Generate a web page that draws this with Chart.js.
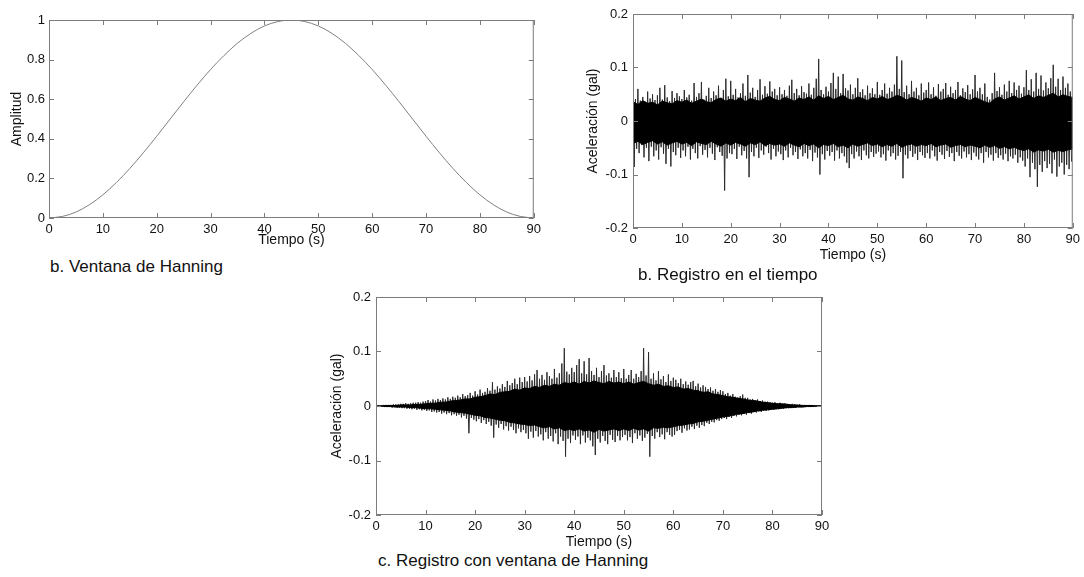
<!DOCTYPE html>
<html>
<head>
<meta charset="utf-8">
<script src="https://cdn.jsdelivr.net/npm/chart.js@4.4.1/dist/chart.umd.min.js"></script>
<style>
  body { margin:0; background:#fff; width:1084px; height:577px; position:relative; overflow:hidden; font-family:"Liberation Sans", Arial, sans-serif; }
  canvas { position:absolute; }
  .cap { position:absolute; font-size:17px; line-height:20px; color:#111; white-space:nowrap; }
</style>
</head>
<body>
<canvas id="hann" width="545" height="249" style="left:0;top:0"></canvas>
<canvas id="rec" width="504" height="264" style="left:580px;top:0"></canvas>
<canvas id="win" width="514" height="271" style="left:320px;top:280px"></canvas>
<div class="cap" style="left:50px;top:257px">b. Ventana de Hanning</div>
<div class="cap" style="left:638px;top:265px">b. Registro en el tiempo</div>
<div class="cap" style="left:378px;top:551px">c. Registro con ventana de Hanning</div>
<script>
// tick labels
const xTicks = [0, 10, 20, 30, 40, 50, 60, 70, 80, 90];
const yTicksHann = [0, 0.2, 0.4, 0.6, 0.8, 1];
const yTicksRec = [-0.2, -0.1, 0, 0.1, 0.2];

// Hanning window, read every 2.5 s
const hannT = [0, 2.5, 5, 7.5, 10, 12.5, 15, 17.5, 20, 22.5, 25, 27.5, 30, 32.5, 35, 37.5, 40, 42.5, 45,
  47.5, 50, 52.5, 55, 57.5, 60, 62.5, 65, 67.5, 70, 72.5, 75, 77.5, 80, 82.5, 85, 87.5, 90];
const hannAmp = [0, 0.008, 0.030, 0.067, 0.117, 0.179, 0.25, 0.329, 0.413, 0.50, 0.587, 0.671, 0.75, 0.821, 0.883, 0.933, 0.970, 0.992, 1.00,
  0.992, 0.970, 0.933, 0.883, 0.821, 0.75, 0.671, 0.587, 0.50, 0.413, 0.329, 0.25, 0.179, 0.117, 0.067, 0.030, 0.008, 0];

// records: peak high / low read for every 0.5 s, solid core band edge for every 1 s
const recordStep = 0.5;
const coreStep = 1;

const recHigh = [
  0.052,0.041,0.060,0.038,0.045,0.036,0.055,0.042,0.050,0.039,0.048,0.062,0.040,0.067,0.044,0.037,0.056,0.043,0.052,0.046,
  0.041,0.058,0.044,0.049,0.038,0.071,0.045,0.052,0.073,0.040,0.047,0.062,0.043,0.055,0.048,0.066,0.041,0.058,0.079,0.046,
  0.075,0.049,0.060,0.044,0.052,0.070,0.047,0.086,0.053,0.062,0.045,0.058,0.078,0.049,0.065,0.051,0.074,0.055,0.060,0.048,
  0.063,0.050,0.058,0.047,0.066,0.077,0.052,0.060,0.048,0.065,0.054,0.051,0.070,0.049,0.062,0.079,0.116,0.058,0.050,0.064,
  0.055,0.071,0.090,0.060,0.083,0.052,0.088,0.061,0.057,0.068,0.050,0.062,0.080,0.054,0.059,0.048,0.066,0.052,0.061,0.050,
  0.073,0.049,0.058,0.070,0.051,0.062,0.055,0.068,0.121,0.060,0.113,0.054,0.066,0.050,0.075,0.055,0.062,0.048,0.070,0.053,
  0.058,0.072,0.050,0.063,0.047,0.069,0.055,0.060,0.071,0.049,0.064,0.052,0.058,0.073,0.048,0.061,0.054,0.067,0.050,0.059,
  0.086,0.055,0.062,0.050,0.070,0.045,0.040,0.052,0.090,0.056,0.063,0.049,0.068,0.055,0.075,0.052,0.072,0.058,0.066,0.051,
  0.063,0.095,0.058,0.078,0.055,0.090,0.060,0.085,0.057,0.072,0.061,0.080,0.105,0.064,0.079,0.058,0.083,0.062,0.070,0.055
];
const recLow = [
  -0.086,-0.052,-0.060,-0.045,-0.068,-0.050,-0.075,-0.048,-0.066,-0.055,-0.072,-0.049,-0.061,-0.080,-0.052,-0.085,-0.058,-0.064,-0.050,-0.069,
  -0.055,-0.066,-0.048,-0.072,-0.052,-0.060,-0.070,-0.047,-0.063,-0.054,-0.068,-0.050,-0.061,-0.073,-0.049,-0.058,-0.065,-0.130,-0.070,-0.060,
  -0.062,-0.052,-0.071,-0.048,-0.064,-0.056,-0.070,-0.105,-0.058,-0.066,-0.050,-0.069,-0.055,-0.063,-0.048,-0.060,-0.072,-0.052,-0.066,-0.057,
  -0.062,-0.073,-0.055,-0.068,-0.050,-0.064,-0.058,-0.071,-0.053,-0.066,-0.060,-0.070,-0.054,-0.075,-0.059,-0.068,-0.100,-0.062,-0.072,-0.056,
  -0.065,-0.058,-0.074,-0.055,-0.070,-0.060,-0.066,-0.078,-0.088,-0.062,-0.070,-0.057,-0.066,-0.073,-0.055,-0.064,-0.070,-0.058,-0.067,-0.061,
  -0.057,-0.068,-0.062,-0.074,-0.055,-0.066,-0.060,-0.072,-0.065,-0.058,-0.107,-0.063,-0.070,-0.056,-0.067,-0.061,-0.073,-0.058,-0.064,-0.069,
  -0.060,-0.070,-0.055,-0.066,-0.074,-0.058,-0.063,-0.071,-0.056,-0.067,-0.060,-0.075,-0.058,-0.065,-0.070,-0.057,-0.068,-0.062,-0.073,-0.059,
  -0.066,-0.072,-0.060,-0.078,-0.058,-0.068,-0.063,-0.074,-0.060,-0.069,-0.064,-0.072,-0.061,-0.075,-0.066,-0.070,-0.063,-0.078,-0.068,-0.074,
  -0.085,-0.070,-0.105,-0.078,-0.090,-0.123,-0.082,-0.095,-0.075,-0.088,-0.080,-0.098,-0.072,-0.104,-0.085,-0.078,-0.100,-0.082,-0.090,-0.076
];
const recCoreHigh = [
  0.036,0.031,0.038,0.033,0.035,0.030,0.037,0.034,0.032,0.038,
  0.035,0.039,0.033,0.037,0.041,0.036,0.034,0.040,0.043,0.037,
  0.041,0.038,0.044,0.036,0.042,0.039,0.037,0.043,0.046,0.040,
  0.038,0.044,0.041,0.037,0.043,0.040,0.045,0.039,0.047,0.042,
  0.046,0.040,0.044,0.048,0.041,0.039,0.045,0.042,0.038,0.044,
  0.041,0.046,0.040,0.043,0.048,0.045,0.039,0.044,0.041,0.037,
  0.043,0.040,0.045,0.038,0.042,0.044,0.039,0.046,0.041,0.038,
  0.044,0.040,0.036,0.033,0.041,0.045,0.039,0.043,0.047,0.041,
  0.045,0.049,0.042,0.047,0.044,0.048,0.052,0.045,0.049,0.046,
  0.044
];
const recCoreLow = [
  -0.042,-0.038,-0.044,-0.040,-0.037,-0.043,-0.039,-0.045,-0.041,-0.038,
  -0.043,-0.040,-0.046,-0.039,-0.042,-0.044,-0.038,-0.043,-0.047,-0.041,
  -0.045,-0.040,-0.043,-0.047,-0.041,-0.044,-0.039,-0.046,-0.042,-0.045,
  -0.043,-0.047,-0.041,-0.045,-0.048,-0.042,-0.046,-0.043,-0.050,-0.044,
  -0.046,-0.042,-0.048,-0.045,-0.050,-0.043,-0.047,-0.044,-0.041,-0.046,
  -0.043,-0.048,-0.044,-0.047,-0.042,-0.049,-0.045,-0.043,-0.047,-0.044,
  -0.046,-0.042,-0.048,-0.045,-0.043,-0.049,-0.046,-0.044,-0.048,-0.045,
  -0.047,-0.050,-0.045,-0.049,-0.046,-0.051,-0.048,-0.052,-0.049,-0.053,
  -0.055,-0.052,-0.058,-0.054,-0.056,-0.053,-0.058,-0.055,-0.057,-0.054,
  -0.052
];

const winHigh = [
  0.001,0.001,0.001,0.002,0.002,0.002,0.002,0.003,0.003,0.003,0.004,0.004,0.005,0.004,0.005,0.006,0.006,0.007,0.006,0.008,
  0.009,0.011,0.008,0.012,0.010,0.013,0.011,0.014,0.012,0.016,0.013,0.017,0.015,0.019,0.016,0.022,0.018,0.020,0.024,0.019,
  0.027,0.021,0.030,0.024,0.026,0.033,0.028,0.044,0.030,0.036,0.032,0.040,0.035,0.046,0.038,0.042,0.050,0.040,0.052,0.044,
  0.053,0.045,0.055,0.047,0.058,0.066,0.050,0.057,0.048,0.062,0.055,0.050,0.068,0.052,0.060,0.078,0.106,0.063,0.058,0.070,
  0.062,0.075,0.086,0.060,0.082,0.058,0.088,0.064,0.057,0.070,0.053,0.064,0.075,0.056,0.060,0.052,0.066,0.053,0.062,0.051,
  0.068,0.050,0.057,0.066,0.050,0.059,0.053,0.064,0.106,0.056,0.099,0.050,0.060,0.047,0.064,0.049,0.055,0.044,0.058,0.046,
  0.052,0.048,0.042,0.050,0.040,0.045,0.039,0.044,0.046,0.036,0.041,0.034,0.038,0.035,0.031,0.034,0.028,0.031,0.026,0.029,
  0.027,0.022,0.024,0.019,0.022,0.017,0.016,0.018,0.021,0.015,0.015,0.012,0.013,0.011,0.012,0.009,0.010,0.008,0.008,0.007,
  0.006,0.007,0.005,0.006,0.004,0.005,0.004,0.003,0.004,0.003,0.002,0.003,0.002,0.002,0.001,0.002,0.001,0.001,0.001,0.000
];
const winLow = [
  -0.001,-0.001,-0.001,-0.002,-0.002,-0.002,-0.003,-0.002,-0.003,-0.003,-0.004,-0.004,-0.005,-0.005,-0.006,-0.005,-0.007,-0.006,-0.008,-0.007,
  -0.009,-0.008,-0.011,-0.010,-0.012,-0.011,-0.014,-0.012,-0.015,-0.013,-0.017,-0.015,-0.018,-0.016,-0.021,-0.018,-0.023,-0.050,-0.022,-0.025,
  -0.028,-0.024,-0.031,-0.026,-0.033,-0.029,-0.036,-0.058,-0.034,-0.040,-0.033,-0.043,-0.037,-0.045,-0.038,-0.044,-0.050,-0.041,-0.048,-0.044,
  -0.050,-0.060,-0.047,-0.058,-0.046,-0.056,-0.052,-0.063,-0.048,-0.060,-0.055,-0.065,-0.050,-0.070,-0.056,-0.064,-0.093,-0.060,-0.068,-0.054,
  -0.062,-0.056,-0.070,-0.054,-0.067,-0.058,-0.063,-0.074,-0.090,-0.060,-0.067,-0.055,-0.064,-0.070,-0.053,-0.062,-0.066,-0.055,-0.063,-0.057,
  -0.053,-0.063,-0.057,-0.068,-0.050,-0.060,-0.054,-0.064,-0.058,-0.051,-0.093,-0.055,-0.060,-0.048,-0.057,-0.052,-0.061,-0.048,-0.053,-0.056,
  -0.053,-0.046,-0.044,-0.049,-0.041,-0.045,-0.043,-0.038,-0.042,-0.036,-0.040,-0.035,-0.037,-0.031,-0.033,-0.029,-0.030,-0.026,-0.027,-0.024,
  -0.022,-0.024,-0.020,-0.022,-0.018,-0.019,-0.016,-0.017,-0.014,-0.016,-0.013,-0.014,-0.011,-0.012,-0.010,-0.011,-0.008,-0.009,-0.008,-0.007,
  -0.007,-0.006,-0.006,-0.005,-0.005,-0.004,-0.004,-0.003,-0.003,-0.003,-0.002,-0.002,-0.002,-0.001,-0.001,-0.001,-0.001,-0.001,0.000,0.000
];
const winCoreHigh = [
  0.000,0.000,0.001,0.001,0.001,0.002,0.002,0.002,0.003,0.003,
  0.004,0.005,0.005,0.007,0.007,0.009,0.010,0.011,0.013,0.013,
  0.016,0.017,0.019,0.022,0.021,0.025,0.026,0.027,0.031,0.029,
  0.033,0.032,0.036,0.034,0.038,0.036,0.040,0.038,0.043,0.041,
  0.044,0.040,0.045,0.042,0.046,0.043,0.041,0.045,0.042,0.044,
  0.041,0.044,0.040,0.043,0.045,0.041,0.038,0.040,0.036,0.037,
  0.034,0.035,0.031,0.032,0.029,0.028,0.025,0.026,0.022,0.021,
  0.019,0.017,0.016,0.014,0.013,0.011,0.010,0.009,0.007,0.006,
  0.005,0.004,0.004,0.003,0.002,0.002,0.001,0.001,0.001,0.000,
  0.000
];
const winCoreLow = [
  0.000,0.000,-0.001,-0.001,-0.002,-0.002,-0.002,-0.003,-0.003,-0.004,
  -0.005,-0.005,-0.006,-0.007,-0.008,-0.009,-0.011,-0.012,-0.013,-0.015,
  -0.017,-0.018,-0.021,-0.022,-0.024,-0.026,-0.027,-0.030,-0.031,-0.033,
  -0.034,-0.036,-0.035,-0.038,-0.040,-0.038,-0.042,-0.040,-0.045,-0.043,
  -0.045,-0.042,-0.046,-0.044,-0.048,-0.043,-0.046,-0.044,-0.042,-0.045,
  -0.042,-0.045,-0.041,-0.044,-0.042,-0.046,-0.040,-0.041,-0.039,-0.040,
  -0.038,-0.036,-0.035,-0.033,-0.032,-0.029,-0.028,-0.026,-0.024,-0.022,
  -0.020,-0.019,-0.017,-0.015,-0.014,-0.012,-0.011,-0.009,-0.008,-0.007,
  -0.006,-0.005,-0.004,-0.003,-0.003,-0.002,-0.002,-0.001,-0.001,0.000,
  0.000
];

Chart.defaults.font.family = '"Liberation Sans", Arial, sans-serif';
Chart.defaults.color = '#111';

// matlab-like box with ticks pointing inwards
const framePlugin = {
  id: 'frame',
  afterDatasetsDraw(chart) {
    const { ctx, chartArea: a, scales: { x, y } } = chart;
    ctx.save();
    ctx.strokeStyle = '#7c7c7c';
    ctx.lineWidth = 1;
    ctx.strokeRect(a.left + 0.5, a.top + 0.5, a.right - a.left - 1, a.bottom - a.top - 1);
    ctx.beginPath();
    x.ticks.forEach(t => {
      const px = Math.round(x.getPixelForValue(t.value)) + 0.5;
      ctx.moveTo(px, a.bottom); ctx.lineTo(px, a.bottom - 5);
      ctx.moveTo(px, a.top); ctx.lineTo(px, a.top + 5);
    });
    y.ticks.forEach(t => {
      const py = Math.round(y.getPixelForValue(t.value)) + 0.5;
      ctx.moveTo(a.left, py); ctx.lineTo(a.left + 5, py);
      ctx.moveTo(a.right, py); ctx.lineTo(a.right - 5, py);
    });
    ctx.stroke();
    ctx.restore();
  }
};

function makeScales(yMin, yMax, yTicks, yTitle, box) {
  return {
    x: {
      type: 'linear', min: 0, max: 90,
      afterBuildTicks: s => { s.ticks = xTicks.map(v => ({ value: v })); },
      afterFit: s => { s.height = box.xh; },
      grid: { display: false, drawTicks: false }, border: { display: false },
      ticks: { autoSkip: false, maxRotation: 0, padding: 4, font: { size: 13 }, callback: v => String(v) },
      title: { display: true, text: 'Tiempo (s)', font: { size: box.ts }, padding: 0 }
    },
    y: {
      type: 'linear', min: yMin, max: yMax,
      afterBuildTicks: s => { s.ticks = yTicks.map(v => ({ value: v })); },
      afterFit: s => { s.width = box.yw; },
      grid: { display: false, drawTicks: false }, border: { display: false },
      ticks: { autoSkip: false, padding: box.yp, font: { size: 13 }, callback: v => String(v) },
      title: { display: true, text: yTitle, font: { size: box.ts }, padding: { top: box.ytp, bottom: 0 } }
    }
  };
}

const baseOptions = {
  responsive: false, animation: false, events: [], devicePixelRatio: 1,
  plugins: { legend: { display: false }, tooltip: { enabled: false } },
  elements: { point: { radius: 0 } }
};

// a. Hanning window
new Chart(document.getElementById('hann'), {
  type: 'line',
  data: { datasets: [{
    data: hannT.map((t, i) => ({ x: t, y: hannAmp[i] })),
    borderColor: '#808080', borderWidth: 1, cubicInterpolationMode: 'monotone', fill: false
  }] },
  options: Object.assign({}, baseOptions, {
    layout: { padding: { top: 20, right: 7, left: 0, bottom: 0 } },
    scales: makeScales(0, 1, yTicksHann, 'Amplitud', { xh: 31, yw: 49, yp: 4, ytp: 9, ts: 14 })
  }),
  plugins: [framePlugin]
});

// thin trace swinging between the read peaks, under a solid black core band
function recordDatasets(high, low, coreHigh, coreLow) {
  const zig = [];
  high.forEach((v, i) => {
    zig.push({ x: i * recordStep, y: v }, { x: i * recordStep + recordStep / 2, y: low[i] });
  });
  return [
    { data: zig, borderColor: '#2b2b2b', borderWidth: 1, fill: false, tension: 0, order: 3 },
    { data: coreHigh.map((v, i) => ({ x: i * coreStep, y: v })), borderWidth: 1, borderColor: '#000', backgroundColor: '#000', fill: '+1', order: 1 },
    { data: coreLow.map((v, i) => ({ x: i * coreStep, y: v })), borderWidth: 1, borderColor: '#000', fill: false, order: 1 }
  ];
}

// b. record in time
new Chart(document.getElementById('rec'), {
  type: 'line',
  data: { datasets: recordDatasets(recHigh, recLow, recCoreHigh, recCoreLow) },
  options: Object.assign({}, baseOptions, {
    layout: { padding: { top: 14, right: 11, left: 0, bottom: 0 } },
    scales: makeScales(-0.2, 0.2, yTicksRec, 'Aceleración (gal)', { xh: 36, yw: 53, yp: 5, ytp: 5, ts: 14 })
  }),
  plugins: [framePlugin]
});

// c. record with Hanning window
new Chart(document.getElementById('win'), {
  type: 'line',
  data: { datasets: recordDatasets(winHigh, winLow, winCoreHigh, winCoreLow) },
  options: Object.assign({}, baseOptions, {
    layout: { padding: { top: 17, right: 12, left: 0, bottom: 0 } },
    scales: makeScales(-0.2, 0.2, yTicksRec, 'Aceleración (gal)', { xh: 36, yw: 56, yp: 5, ytp: 9, ts: 14 })
  }),
  plugins: [framePlugin]
});
</script>
</body>
</html>
